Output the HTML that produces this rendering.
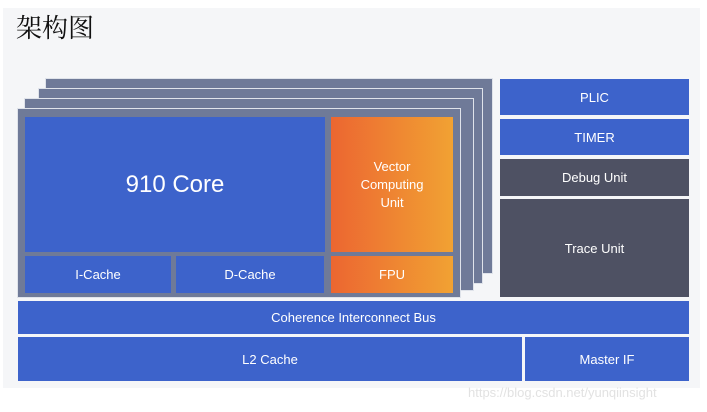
<html><head><style>
body{margin:0;width:707px;height:412px;background:#fff;position:relative;overflow:hidden;font-family:"Liberation Sans",sans-serif}
div{position:absolute;box-sizing:border-box}
.b{background:#3d63cb;color:#fff;display:flex;align-items:center;justify-content:center;font-size:13px}
.d{background:#4e5163;color:#fff;display:flex;align-items:center;justify-content:center;font-size:13px}
.p{background:#6f7a98;border:1px solid #dfe3ea}
.o{background:linear-gradient(90deg,#ec6631,#f1a233);color:#fff;display:flex;align-items:center;justify-content:center;font-size:13px;text-align:center;line-height:18px}
</style></head><body>
<div style="left:3px;top:8px;width:697px;height:380px;background:#f5f6f8"></div>
<div style="left:16px;top:8px;font-family:'Liberation Serif','Noto Serif CJK SC',serif;font-size:26px;color:#111">架构图</div>
<div class="p" style="left:45px;top:78px;width:448px;height:196px"></div>
<div class="p" style="left:38px;top:88px;width:445px;height:196px"></div>
<div class="p" style="left:24px;top:98px;width:450px;height:193px"></div>
<div class="p" style="left:17px;top:108px;width:444px;height:190px"></div>
<div class="b" style="left:25px;top:117px;width:300px;height:135px;font-size:24px">910 Core</div>
<div class="o" style="left:331px;top:117px;width:122px;height:135px">Vector<br>Computing<br>Unit</div>
<div class="b" style="left:25px;top:256px;width:146px;height:37px">I-Cache</div>
<div class="b" style="left:176px;top:256px;width:148px;height:37px">D-Cache</div>
<div class="o" style="left:331px;top:256px;width:122px;height:37px">FPU</div>
<div class="b" style="left:500px;top:79px;width:189px;height:36px">PLIC</div>
<div class="b" style="left:500px;top:119px;width:189px;height:36px">TIMER</div>
<div class="d" style="left:500px;top:159px;width:189px;height:37px">Debug Unit</div>
<div class="d" style="left:500px;top:199px;width:189px;height:98px">Trace Unit</div>
<div class="b" style="left:18px;top:301px;width:671px;height:33px">Coherence Interconnect Bus</div>
<div class="b" style="left:18px;top:337px;width:504px;height:44px">L2 Cache</div>
<div class="b" style="left:525px;top:337px;width:164px;height:44px">Master IF</div>
<div style="left:468px;top:385px;font-size:13px;color:#e2e2e2">https://blog.csdn.net/yunqiinsight</div>
</body></html>
